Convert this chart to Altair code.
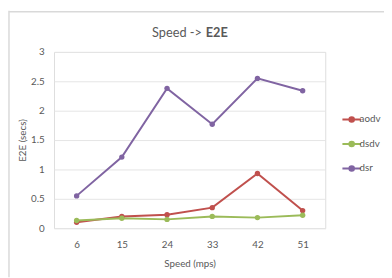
import altair as alt
import pandas as pd

speeds = ["6", "15", "24", "33", "42", "51"]
aodv = [0.10, 0.20, 0.23, 0.35, 0.93, 0.30]
dsdv = [0.13, 0.17, 0.15, 0.20, 0.18, 0.22]
dsr = [0.55, 1.21, 2.38, 1.77, 2.55, 2.34]
series_names = ["aodv", "dsdv", "dsr"]
series_colors = ["#C0504D", "#9BBB59", "#8064A2"]

rows = []
for name, vals in zip(series_names, [aodv, dsdv, dsr]):
    for s, v in zip(speeds, vals):
        rows.append({"speed": s, "e2e": v, "proto": name})
df = pd.DataFrame(rows)

FONT = "Lato"
GRAY = "#595959"
W, H = 277, 180

color = alt.Color(
    "proto:N",
    scale=alt.Scale(domain=series_names, range=series_colors),
    legend=alt.Legend(
        title=None,
        orient="none",
        legendX=W + 20,
        legendY=62,
        symbolType="M-1.6,0H1.6M-0.4,0A0.4,0.4 0 1,0 0.4,0A0.4,0.4 0 1,0 -0.4,0",
        symbolSize=140,
        symbolStrokeWidth=2,
        labelFont=FONT,
        labelFontSize=10,
        labelColor=GRAY,
        rowPadding=11,
        labelOffset=1,
    ),
)

x = alt.X(
    "speed:N",
    sort=speeds,
    scale=alt.Scale(paddingInner=0, paddingOuter=0.0),
    axis=alt.Axis(
        title="Speed (mps)",
        labelAngle=0,
        domain=False,
        ticks=False,
        labelPadding=12,
        titlePadding=9,
        labelFont=FONT,
        titleFont=FONT,
        labelFontSize=10,
        titleFontSize=10,
        titleFontWeight="normal",
        labelColor=GRAY,
        titleColor=GRAY,
    ),
)
y = alt.Y(
    "e2e:Q",
    scale=alt.Scale(domain=[0, 3], nice=False),
    axis=alt.Axis(
        title="E2E (secs)",
        values=[0, 0.5, 1, 1.5, 2, 2.5, 3],
        format="~g",
        domain=False,
        ticks=False,
        labelPadding=10,
        titlePadding=3,
        labelFont=FONT,
        titleFont=FONT,
        labelFontSize=10,
        titleFontSize=10,
        titleFontWeight="normal",
        labelColor=GRAY,
        titleColor=GRAY,
        gridColor="#E4E4E4",
        gridWidth=1,
    ),
)

base = alt.Chart(df)
lines = base.mark_line(strokeWidth=2).encode(x=x, y=y, color=color)
points = base.mark_point(filled=True, size=30, opacity=1).encode(x=x, y=y, color=color)

title_df = pd.DataFrame({"a": [1]})
t1 = alt.Chart(title_df).mark_text(
    font=FONT, fontSize=13, color=GRAY, align="right", baseline="middle"
).encode(x=alt.value(151), y=alt.value(-19), text=alt.value("Speed ->"))
t2 = alt.Chart(title_df).mark_text(
    font=FONT, fontSize=13, color=GRAY, fontWeight="bold", align="left", baseline="middle"
).encode(x=alt.value(155), y=alt.value(-19), text=alt.value("E2E"))

border_v = alt.Chart(title_df).mark_rule(color="#D9D9D9", strokeWidth=1.5).encode(
    x=alt.value(-46), y=alt.value(-42), y2=alt.value(230)
)
border_h = alt.Chart(title_df).mark_rule(color="#D9D9D9", strokeWidth=1.5).encode(
    x=alt.value(-46), x2=alt.value(340), y=alt.value(-41)
)

chart = (
    alt.layer(border_v, border_h, lines, points, t1, t2)
    .properties(
        width=W,
        height=H,
        autosize=alt.AutoSizeParams(type="none"),
        padding={"left": 47, "top": 42, "right": 60, "bottom": 48},
    )
    .configure_view(stroke=None)
    .configure(background="white")
)

chart.save("out.html", embed_options={"renderer": "svg", "actions": False})
